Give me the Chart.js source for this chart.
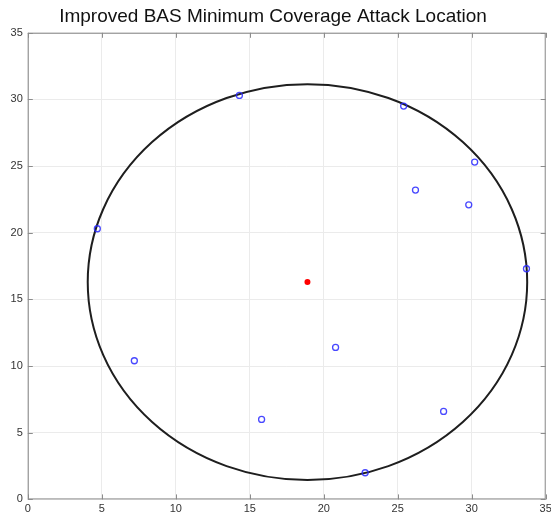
<!DOCTYPE html>
<html>
<head>
<meta charset="utf-8">
<script src="https://cdn.jsdelivr.net/npm/chart.js@4/dist/chart.umd.min.js"></script>
<style>
  html, body { margin: 0; padding: 0; background: #fff; }
  #wrap { width: 551px; height: 518px; }
</style>
</head>
<body>
<div id="wrap"><canvas id="attackChart"></canvas></div>
<script>
// sensor locations (blue circles)
const sensorX = [4.7, 7.2, 14.3, 15.8, 20.8, 22.8, 25.4, 26.2, 28.1, 29.8, 30.2, 33.7];
const sensorY = [20.3, 10.4, 30.3, 6.0, 11.4, 2.0, 29.5, 23.2, 6.6, 22.1, 25.3, 17.3];

// attack location (red dot) and minimum coverage circle
const attackX = [18.9];
const attackY = [16.3];
const coverRadius = [14.85];

const axisTicks = [0, 5, 10, 15, 20, 25, 30, 35];

const sensorPoints = sensorX.map((x, i) => ({ x: x, y: sensorY[i] }));
const attackPoints = attackX.map((x, i) => ({ x: x, y: attackY[i] }));

// Draw the coverage circle (in data units) plus the matlab-style box with inward ticks
const boxPlugin = {
    id: 'boxPlugin',
    beforeDatasetsDraw(chart) {
        const ctx = chart.ctx;
        const xs = chart.scales.x, ys = chart.scales.y;
        const a = chart.chartArea;

        // box + inward ticks
        ctx.save();
        ctx.strokeStyle = '#8c8c8c';
        ctx.lineWidth = 1;
        ctx.strokeRect(a.left + 0.5, a.top + 0.5, a.right - a.left - 1, a.bottom - a.top - 1);
        ctx.beginPath();
        axisTicks.forEach(t => {
            const px = Math.round(xs.getPixelForValue(t)) + 0.5;
            const py = Math.round(ys.getPixelForValue(t)) + 0.5;
            ctx.moveTo(px, a.bottom); ctx.lineTo(px, a.bottom - 5);
            ctx.moveTo(px, a.top); ctx.lineTo(px, a.top + 5);
            ctx.moveTo(a.left, py); ctx.lineTo(a.left + 5, py);
            ctx.moveTo(a.right, py); ctx.lineTo(a.right - 5, py);
        });
        ctx.stroke();
        ctx.restore();

        // coverage circle
        attackX.forEach((cx, i) => {
            const cy = attackY[i];
            const r = coverRadius[i];
            const px = xs.getPixelForValue(cx);
            const py = ys.getPixelForValue(cy);
            const rx = xs.getPixelForValue(cx + r) - px;
            const ry = py - ys.getPixelForValue(cy + r);
            ctx.save();
            ctx.strokeStyle = '#1e1e1e';
            ctx.lineWidth = 2;
            ctx.beginPath();
            ctx.ellipse(px, py, rx, ry, 0, 0, Math.PI * 2);
            ctx.stroke();
            ctx.restore();
        });
    }
};

const ctx = document.getElementById('attackChart').getContext('2d');
new Chart(ctx, {
    type: 'scatter',
    data: {
        datasets: [{
            label: 'Sensors',
            data: sensorPoints,
            pointStyle: 'circle',
            pointRadius: 3,
            pointBorderWidth: 1.3,
            borderColor: 'rgba(40, 40, 255, 0.85)',
            backgroundColor: 'rgba(0, 0, 0, 0)'
        }, {
            label: 'Attack',
            data: attackPoints,
            pointRadius: 3,
            pointBorderWidth: 0,
            borderColor: '#ff0000',
            backgroundColor: '#ff0000'
        }]
    },
    options: {
        responsive: true,
        maintainAspectRatio: false,
        animation: false,
        layout: { padding: { left: 0, right: 5, top: 0, bottom: 0 } },
        plugins: {
            legend: { display: false },
            tooltip: { enabled: false },
            title: {
                display: true,
                text: 'Improved BAS Minimum Coverage Attack Location',
                color: '#111',
                font: { family: 'Liberation Sans, Arial, sans-serif', size: 19, weight: 'normal' },
                padding: { top: 5, bottom: 5 }
            }
        },
        scales: {
            x: {
                type: 'linear',
                min: 0,
                max: 35,
                afterBuildTicks: (scale) => { scale.ticks = axisTicks.map(v => ({ value: v })); },
                afterFit: (scale) => { scale.height = 18.6; scale.paddingLeft = 0; scale.paddingRight = 0; },
                grid: { color: '#ebebeb', drawTicks: false },
                border: { display: false },
                ticks: {
                    padding: 3,
                    color: '#333',
                    font: { family: 'Liberation Sans, Arial, sans-serif', size: 11 }
                }
            },
            y: {
                type: 'linear',
                min: 0,
                max: 35,
                afterBuildTicks: (scale) => { scale.ticks = axisTicks.map(v => ({ value: v })); },
                afterFit: (scale) => { scale.width = 27.8; scale.paddingTop = 0; scale.paddingBottom = 0; },
                grid: { color: '#ebebeb', drawTicks: false },
                border: { display: false },
                ticks: {
                    padding: 5,
                    color: '#333',
                    font: { family: 'Liberation Sans, Arial, sans-serif', size: 11 }
                }
            }
        }
    },
    plugins: [boxPlugin]
});
</script>
</body>
</html>
